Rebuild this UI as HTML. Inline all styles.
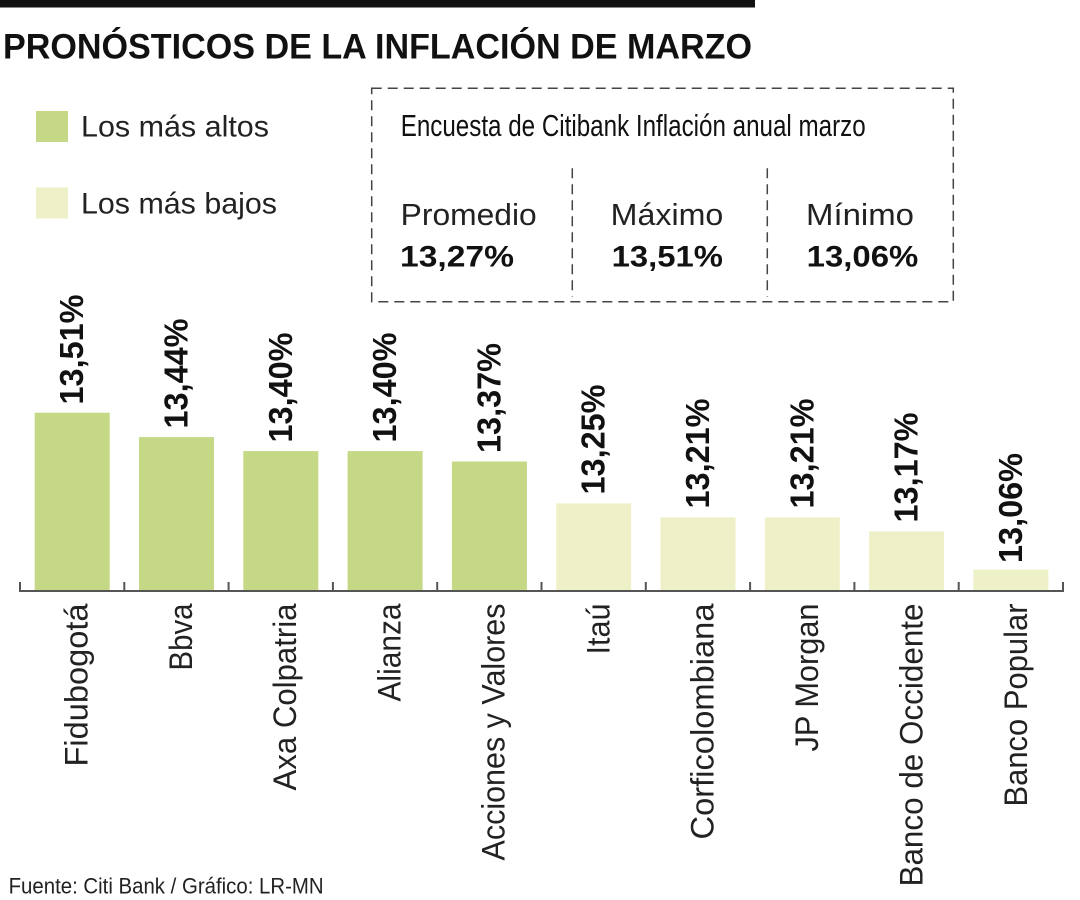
<!DOCTYPE html>
<html>
<head>
<meta charset="utf-8">
<style>
  html, body { margin:0; padding:0; background:#fff; }
  svg { display:block; }
  .t { font-family: "Liberation Sans", sans-serif; fill:#111; }
  .b { font-family: "Liberation Sans", sans-serif; font-weight:bold; fill:#111; }
  .c { font-family: "Liberation Sans", sans-serif; fill:#222; }
</style>
</head>
<body>
<svg width="1080" height="900" viewBox="0 0 1080 900" xmlns="http://www.w3.org/2000/svg">
  <!-- top bar -->
  <rect x="0" y="0" width="755" height="7.5" fill="#111"/>
  <!-- title -->
  <text class="b" x="3" y="58.3" font-size="35" textLength="749" lengthAdjust="spacingAndGlyphs">PRONÓSTICOS DE LA INFLACIÓN DE MARZO</text>

  <!-- legend -->
  <rect x="36" y="111" width="32" height="31" fill="#c5d886"/>
  <text class="t" x="81" y="136.7" font-size="30" textLength="188" lengthAdjust="spacingAndGlyphs" style="fill:#222">Los más altos</text>
  <rect x="36" y="187.5" width="32" height="31" fill="#eef1c8"/>
  <text class="t" x="81" y="213.3" font-size="30" textLength="196" lengthAdjust="spacingAndGlyphs" style="fill:#222">Los más bajos</text>

  <!-- box -->
  <rect x="371.7" y="88.3" width="581.6" height="213.4" fill="none" stroke="#444" stroke-width="1.5" stroke-dasharray="10 6"/>
  <line x1="572.3" y1="168.3" x2="572.3" y2="296.7" stroke="#444" stroke-width="1.5" stroke-dasharray="10 6"/>
  <line x1="767.3" y1="168.3" x2="767.3" y2="296.7" stroke="#444" stroke-width="1.5" stroke-dasharray="10 6"/>
  <text class="t" x="400.7" y="136" font-size="31" textLength="465" lengthAdjust="spacingAndGlyphs">Encuesta de Citibank Inflación anual marzo</text>
  <text class="c" x="400.7" y="225" font-size="31" textLength="136" lengthAdjust="spacingAndGlyphs">Promedio</text>
  <text class="b" x="400" y="266.7" font-size="30" textLength="114" lengthAdjust="spacingAndGlyphs">13,27%</text>
  <text class="c" x="610.7" y="225" font-size="31" textLength="112.6" lengthAdjust="spacingAndGlyphs">Máximo</text>
  <text class="b" x="611.7" y="266.7" font-size="30" textLength="111.3" lengthAdjust="spacingAndGlyphs">13,51%</text>
  <text class="c" x="806" y="225" font-size="31" textLength="108" lengthAdjust="spacingAndGlyphs">Mínimo</text>
  <text class="b" x="806.7" y="266.7" font-size="30" textLength="111.6" lengthAdjust="spacingAndGlyphs">13,06%</text>

  <!-- bars -->
  <g>
    <rect x="34.7"  y="412.7" width="75" height="178.3" fill="#c5d886"/>
    <rect x="139.0" y="437.1" width="75" height="153.9" fill="#c5d886"/>
    <rect x="243.3" y="451.1" width="75" height="139.9" fill="#c5d886"/>
    <rect x="347.6" y="451.1" width="75" height="139.9" fill="#c5d886"/>
    <rect x="451.9" y="461.5" width="75" height="129.5" fill="#c5d886"/>
    <rect x="556.2" y="503.4" width="75" height="87.6" fill="#eef1c8"/>
    <rect x="660.5" y="517.4" width="75" height="73.6" fill="#eef1c8"/>
    <rect x="764.8" y="517.4" width="75" height="73.6" fill="#eef1c8"/>
    <rect x="869.1" y="531.3" width="75" height="59.7" fill="#eef1c8"/>
    <rect x="973.4" y="569.7" width="75" height="21.3" fill="#eef1c8"/>
  </g>

  <!-- axis -->
  <g stroke="#555" stroke-width="2">
    <line x1="19" y1="591" x2="1064" y2="591"/>
    <line x1="20" y1="582" x2="20" y2="591"/>
    <line x1="124.3" y1="582" x2="124.3" y2="591"/>
    <line x1="228.6" y1="582" x2="228.6" y2="591"/>
    <line x1="332.9" y1="582" x2="332.9" y2="591"/>
    <line x1="437.2" y1="582" x2="437.2" y2="591"/>
    <line x1="541.5" y1="582" x2="541.5" y2="591"/>
    <line x1="645.8" y1="582" x2="645.8" y2="591"/>
    <line x1="750.1" y1="582" x2="750.1" y2="591"/>
    <line x1="854.4" y1="582" x2="854.4" y2="591"/>
    <line x1="958.7" y1="582" x2="958.7" y2="591"/>
    <line x1="1063" y1="582" x2="1063" y2="591"/>
  </g>

  <!-- value labels -->
  <g font-size="33.5">
    <text class="b" transform="translate(83.2,404.5) rotate(-90)" textLength="110" lengthAdjust="spacingAndGlyphs">13,51%</text>
    <text class="b" transform="translate(187.5,428.5) rotate(-90)" textLength="110" lengthAdjust="spacingAndGlyphs">13,44%</text>
    <text class="b" transform="translate(291.8,442.5) rotate(-90)" textLength="110" lengthAdjust="spacingAndGlyphs">13,40%</text>
    <text class="b" transform="translate(396.1,442.5) rotate(-90)" textLength="110" lengthAdjust="spacingAndGlyphs">13,40%</text>
    <text class="b" transform="translate(500.4,453) rotate(-90)" textLength="110" lengthAdjust="spacingAndGlyphs">13,37%</text>
    <text class="b" transform="translate(604.7,494.5) rotate(-90)" textLength="110" lengthAdjust="spacingAndGlyphs">13,25%</text>
    <text class="b" transform="translate(709,508.5) rotate(-90)" textLength="110" lengthAdjust="spacingAndGlyphs">13,21%</text>
    <text class="b" transform="translate(813.3,508.5) rotate(-90)" textLength="110" lengthAdjust="spacingAndGlyphs">13,21%</text>
    <text class="b" transform="translate(917.6,522.5) rotate(-90)" textLength="110" lengthAdjust="spacingAndGlyphs">13,17%</text>
    <text class="b" transform="translate(1021.9,563) rotate(-90)" textLength="110" lengthAdjust="spacingAndGlyphs">13,06%</text>
  </g>

  <!-- category labels -->
  <g font-size="32" text-anchor="end">
    <text class="c" transform="translate(87.5,603.5) rotate(-90)" textLength="163" lengthAdjust="spacingAndGlyphs">Fidubogotá</text>
    <text class="c" transform="translate(191.8,603.5) rotate(-90)" textLength="67" lengthAdjust="spacingAndGlyphs">Bbva</text>
    <text class="c" transform="translate(296.1,603.5) rotate(-90)" textLength="187" lengthAdjust="spacingAndGlyphs">Axa Colpatria</text>
    <text class="c" transform="translate(400.4,603.5) rotate(-90)" textLength="98" lengthAdjust="spacingAndGlyphs">Alianza</text>
    <text class="c" transform="translate(504.7,603.5) rotate(-90)" textLength="257" lengthAdjust="spacingAndGlyphs">Acciones y Valores</text>
    <text class="c" transform="translate(609.5,603.5) rotate(-90)" textLength="51" lengthAdjust="spacingAndGlyphs">Itaú</text>
    <text class="c" transform="translate(713.5,603.5) rotate(-90)" textLength="236" lengthAdjust="spacingAndGlyphs">Corficolombiana</text>
    <text class="c" transform="translate(817.8,603.5) rotate(-90)" textLength="148" lengthAdjust="spacingAndGlyphs">JP Morgan</text>
    <text class="c" transform="translate(922.6,603.5) rotate(-90)" textLength="283" lengthAdjust="spacingAndGlyphs">Banco de Occidente</text>
    <text class="c" transform="translate(1027,603.5) rotate(-90)" textLength="203" lengthAdjust="spacingAndGlyphs">Banco Popular</text>
  </g>

  <!-- footer -->
  <text class="c" x="8.6" y="893.3" font-size="22" textLength="315" lengthAdjust="spacingAndGlyphs">Fuente: Citi Bank / Gráfico: LR-MN</text>
</svg>
</body>
</html>
